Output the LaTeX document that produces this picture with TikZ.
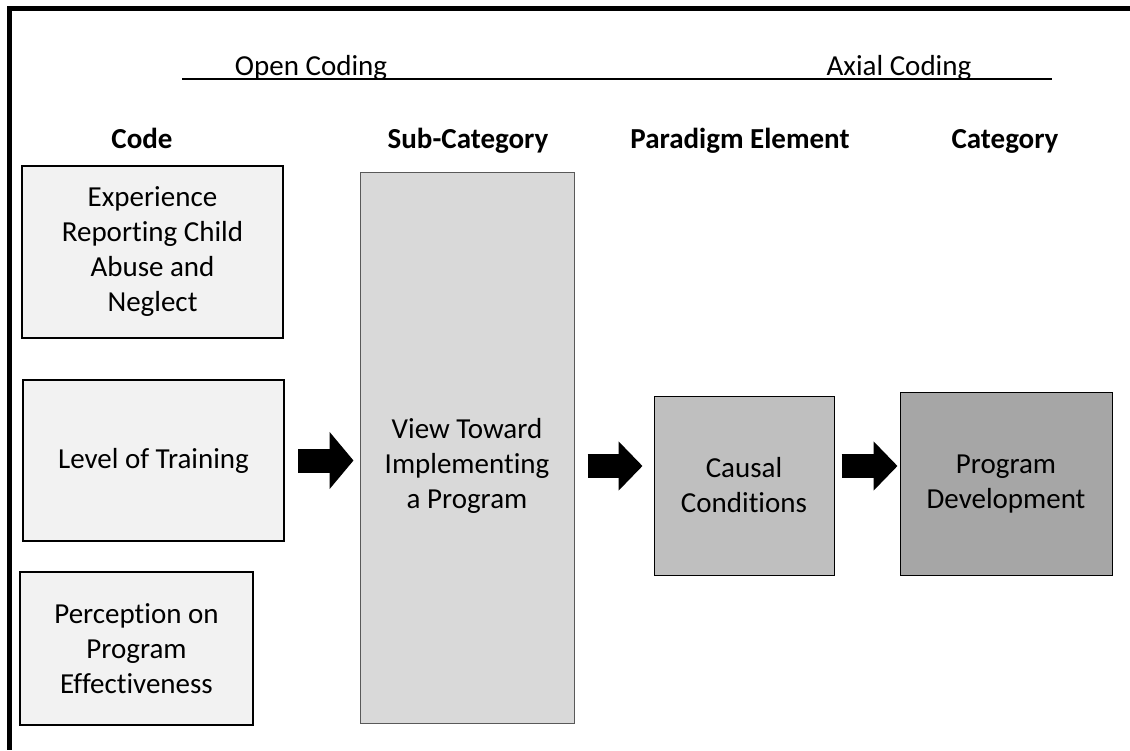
\documentclass[tikz,border=0pt]{standalone}
\usepackage{fontspec}
\setmainfont{Carlito}[Ligatures={NoCommon,NoContextual}]
\usetikzlibrary{arrows.meta,calc}

\definecolor{codefill}{HTML}{F2F2F2}
\definecolor{subfill}{HTML}{D9D9D9}
\definecolor{condfill}{HTML}{BFBFBF}
\definecolor{catfill}{HTML}{A6A6A6}

\begin{document}
\begin{tikzpicture}[x=1pt,y=-1pt,font=\fontsize{29}{35}\selectfont,
    codebox/.style={draw,line width=2pt,fill=codefill,inner sep=0pt,align=center},
    subbox/.style={draw=black!65,line width=1pt,fill=subfill,inner sep=0pt},
    condbox/.style={draw,line width=1pt,fill=condfill,inner sep=0pt,align=center},
    catbox/.style={draw,line width=1pt,fill=catfill,inner sep=0pt,align=center},
    heading/.style={anchor=base,font=\fontsize{29}{35}\selectfont\bfseries},
    fatarrow/.style={line width=24pt,-{Triangle[length=24pt,width=#1]}},
    fatarrow/.default=48pt]
            \useasboundingbox (0,0) rectangle (1130,750);

            % frame, open on the right and at the bottom
            \draw[line width=4.5pt] (1130,8.5) -- (9.5,8.5) -- (9.5,750);

            \draw[line width=1.5pt] (182,79) -- (1052,79);
            \node[anchor=base] (open) at (311,75) {Open Coding};
            \node[anchor=base] (axial) at (899,75) {Axial Coding};

            \node[heading] (hcode) at (142,148) {Code};
            \node[heading] (hsub) at (468,148) {Sub-Category};
            \node[heading] (hpar) at (740,148) {Paradigm Element};
            \node[heading] (hcat) at (1005,148) {Category};

            \node[codebox,minimum width=261,minimum height=172] (b1) at (152.5,252)
                {Experience\\Reporting Child\\Abuse and\\Neglect};
            \node[codebox,minimum width=261,minimum height=161] (b2) at (153.5,460.5)
                {Level of Training};
            \node[codebox,minimum width=233,minimum height=153] (b3) at (136.5,648.5)
                {Perception on\\Program\\Effectiveness};

            \node[subbox,minimum width=214,minimum height=551] (sub) at (467,447.5) {};
            \node[align=center] (subtext) at (467,466) {View Toward\\Implementing\\a Program};

            \node[condbox,minimum width=180,minimum height=179] (cond) at (744,485.5)
                {Causal\\Conditions};
            \node[catbox,minimum width=212,minimum height=183] (cat) at (1006,483.5)
                {\raisebox{6pt}{\begin{tabular}{@{}c@{}}Program\\Development\end{tabular}}};

            \coordinate (mid) at ([yshift=19.5pt]cond.west);

            \draw[fatarrow=56pt] ([xshift=13pt]b2.east) -- ([xshift=-6pt]b2.east -| sub.west);
            \draw[fatarrow] ([xshift=13pt]mid -| sub.east) -- ([xshift=-11pt]mid);
            \draw[fatarrow] ([xshift=7pt]mid -| cond.east) -- ([xshift=-2pt]mid -| cat.west);

        \end{tikzpicture}
\end{document}
